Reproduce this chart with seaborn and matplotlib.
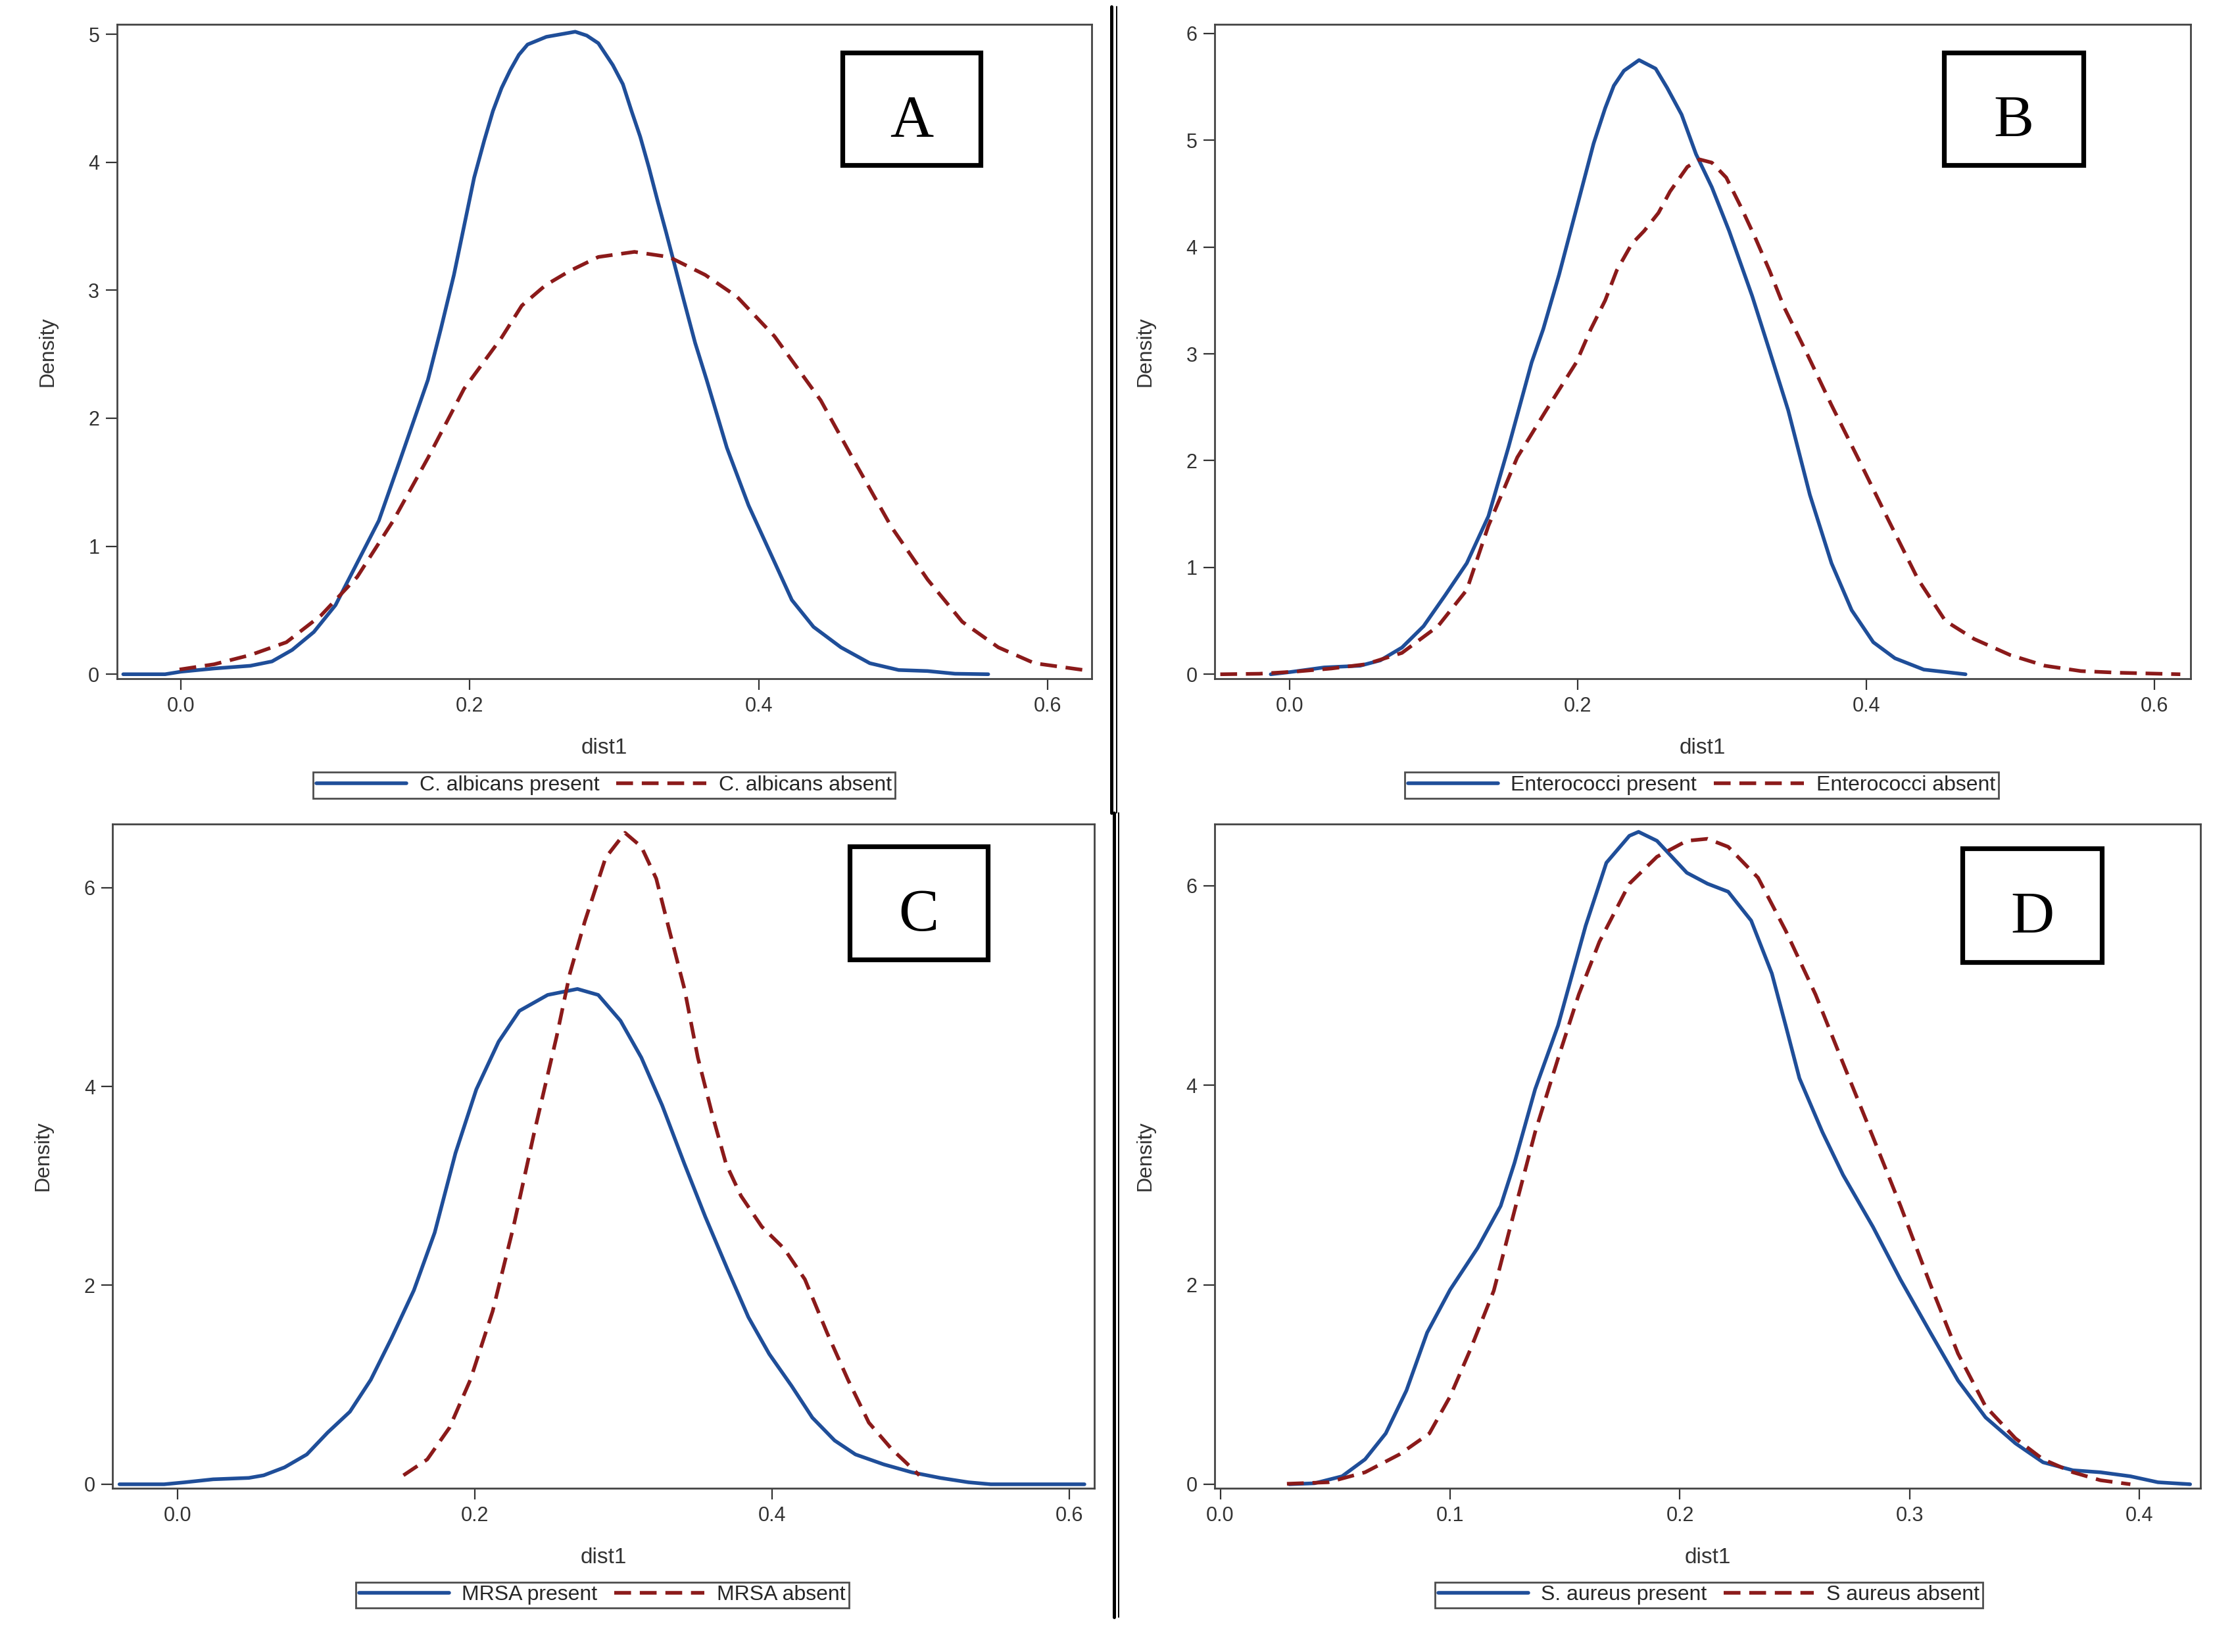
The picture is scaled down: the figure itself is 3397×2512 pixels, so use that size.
import numpy as np
import pandas as pd
import seaborn as sns
import matplotlib.pyplot as plt
from matplotlib.patches import Rectangle
from matplotlib.lines import Line2D

# Panel A - C. albicans
a_pres_x = [-0.040, -0.011, 0.000, 0.023, 0.048, 0.063, 0.077, 0.092, 0.107, 0.122, 0.137, 0.151, 0.171, 0.180,
            0.189, 0.196, 0.203, 0.210, 0.216, 0.222, 0.228, 0.234, 0.240, 0.253, 0.263, 0.273, 0.281, 0.289,
            0.299, 0.306, 0.312, 0.318, 0.324, 0.330, 0.336, 0.342, 0.348, 0.356, 0.364, 0.378, 0.393, 0.408,
            0.423, 0.438, 0.457, 0.477, 0.497, 0.517, 0.536, 0.559]
a_pres_y = [0.0, 0.0, 0.02, 0.045, 0.066, 0.10, 0.19, 0.33, 0.54, 0.87, 1.20, 1.65, 2.30, 2.70,
            3.12, 3.50, 3.88, 4.17, 4.40, 4.58, 4.72, 4.84, 4.92, 4.98, 5.00, 5.02, 4.99, 4.93,
            4.76, 4.61, 4.40, 4.20, 3.96, 3.70, 3.45, 3.19, 2.93, 2.59, 2.30, 1.77, 1.32, 0.95,
            0.58, 0.37, 0.21, 0.086, 0.033, 0.025, 0.004, 0.0]
a_abs_x = [-0.001, 0.023, 0.048, 0.073, 0.097, 0.122, 0.147, 0.171, 0.196, 0.222, 0.236, 0.2525, 0.269, 0.289,
           0.314, 0.338, 0.363, 0.385, 0.411, 0.443, 0.467, 0.492, 0.517, 0.541, 0.566, 0.591, 0.625]
a_abs_y = [0.037, 0.078, 0.15, 0.25, 0.46, 0.76, 1.20, 1.69, 2.23, 2.63, 2.88, 3.04, 3.15, 3.26,
           3.30, 3.26, 3.12, 2.95, 2.64, 2.14, 1.65, 1.15, 0.74, 0.41, 0.21, 0.086, 0.033]

# Panel B - Enterococci
b_pres_x = [-0.013, 0.000, 0.024, 0.049, 0.063, 0.078, 0.093, 0.108, 0.123, 0.138, 0.152, 0.168, 0.176, 0.187,
            0.195, 0.203, 0.211, 0.219, 0.225, 0.232, 0.2425, 0.254, 0.262, 0.272, 0.282, 0.293, 0.305, 0.321,
            0.333, 0.346, 0.361, 0.376, 0.390, 0.405, 0.420, 0.440, 0.469]
b_pres_y = [0.0, 0.02, 0.064, 0.08, 0.13, 0.25, 0.45, 0.74, 1.04, 1.48, 2.13, 2.92, 3.23, 3.74,
            4.15, 4.56, 4.97, 5.30, 5.51, 5.65, 5.75, 5.67, 5.49, 5.24, 4.87, 4.56, 4.15, 3.54,
            3.03, 2.47, 1.68, 1.04, 0.60, 0.30, 0.15, 0.044, 0.0]
b_abs_x = [-0.048, -0.021, 0.004, 0.029, 0.053, 0.078, 0.103, 0.123, 0.138, 0.158, 0.178, 0.199, 0.209, 0.219,
           0.227, 0.2375, 0.246, 0.256, 0.264, 0.276, 0.2845, 0.293, 0.303, 0.313, 0.323, 0.333, 0.343, 0.358,
           0.376, 0.396, 0.416, 0.436, 0.455, 0.475, 0.500, 0.524, 0.549, 0.574, 0.618]
b_abs_y = [0.0, 0.005, 0.025, 0.054, 0.094, 0.20, 0.45, 0.79, 1.39, 2.03, 2.47, 2.92, 3.23, 3.50,
           3.78, 4.03, 4.15, 4.32, 4.52, 4.75, 4.82, 4.79, 4.65, 4.38, 4.09, 3.78, 3.44, 3.03,
           2.52, 1.98, 1.43, 0.89, 0.50, 0.33, 0.18, 0.08, 0.03, 0.015, 0.0]

# Panel C - MRSA
c_pres_x = [-0.039, -0.009, 0.005, 0.024, 0.048, 0.058, 0.072, 0.087, 0.101, 0.116, 0.130, 0.144, 0.159, 0.173,
            0.187, 0.201, 0.216, 0.230, 0.249, 0.269, 0.283, 0.298, 0.312, 0.326, 0.341, 0.355, 0.370, 0.384,
            0.398, 0.413, 0.427, 0.442, 0.456, 0.475, 0.494, 0.513, 0.532, 0.547, 0.610]
c_pres_y = [0.0, 0.0, 0.02, 0.05, 0.064, 0.09, 0.17, 0.30, 0.52, 0.73, 1.05, 1.47, 1.95, 2.53,
            3.33, 3.97, 4.45, 4.76, 4.92, 4.98, 4.92, 4.66, 4.29, 3.81, 3.22, 2.69, 2.16, 1.68,
            1.31, 0.99, 0.67, 0.44, 0.30, 0.20, 0.12, 0.064, 0.02, 0.0, 0.0]
c_abs_x = [0.152, 0.168, 0.183, 0.197, 0.212, 0.226, 0.240, 0.255, 0.264, 0.274, 0.288, 0.301, 0.312, 0.322,
           0.331, 0.341, 0.350, 0.360, 0.369, 0.379, 0.393, 0.408, 0.422, 0.437, 0.451, 0.465, 0.480, 0.499]
c_abs_y = [0.09, 0.25, 0.57, 1.05, 1.74, 2.59, 3.54, 4.50, 5.14, 5.66, 6.30, 6.55, 6.41, 6.09,
           5.56, 4.98, 4.29, 3.70, 3.22, 2.90, 2.59, 2.37, 2.06, 1.52, 1.05, 0.62, 0.36, 0.09]

# Panel D - S. aureus
d_pres_x = [0.030, 0.041, 0.053, 0.063, 0.072, 0.081, 0.090, 0.100, 0.112, 0.122, 0.128, 0.137, 0.147, 0.159,
            0.168, 0.178, 0.182, 0.190, 0.203, 0.212, 0.221, 0.231, 0.240, 0.246, 0.252, 0.262, 0.271, 0.284,
            0.296, 0.309, 0.321, 0.333, 0.346, 0.358, 0.371, 0.383, 0.396, 0.408, 0.422]
d_pres_y = [0.0, 0.01, 0.08, 0.25, 0.51, 0.94, 1.52, 1.95, 2.37, 2.79, 3.22, 3.96, 4.60, 5.60,
            6.23, 6.50, 6.54, 6.45, 6.13, 6.02, 5.94, 5.65, 5.12, 4.60, 4.07, 3.53, 3.10, 2.58,
            2.05, 1.52, 1.04, 0.67, 0.41, 0.22, 0.14, 0.12, 0.08, 0.02, 0.0]
d_abs_x = [0.029, 0.047, 0.063, 0.078, 0.091, 0.100, 0.109, 0.119, 0.128, 0.137, 0.147, 0.156, 0.165, 0.178,
           0.190, 0.203, 0.212, 0.221, 0.234, 0.246, 0.259, 0.271, 0.284, 0.296, 0.309, 0.321, 0.333, 0.346,
           0.358, 0.371, 0.383, 0.396]
d_abs_y = [0.005, 0.02, 0.12, 0.30, 0.51, 0.88, 1.36, 1.94, 2.74, 3.53, 4.27, 4.91, 5.44, 6.02,
           6.29, 6.45, 6.47, 6.39, 6.08, 5.55, 4.91, 4.22, 3.48, 2.79, 2.00, 1.31, 0.78, 0.46,
           0.25, 0.12, 0.04, 0.0]

panel_letters = ["A", "B", "C", "D"]
present_labels = ["C. albicans present", "Enterococci present", "MRSA present", "S. aureus present"]
absent_labels = ["C. albicans absent", "Enterococci absent", "MRSA absent", "S aureus absent"]
x_ticks = [[0.0, 0.2, 0.4, 0.6], [0.0, 0.2, 0.4, 0.6], [0.0, 0.2, 0.4, 0.6], [0.0, 0.1, 0.2, 0.3, 0.4]]
y_ticks = [[0, 1, 2, 3, 4, 5], [0, 1, 2, 3, 4, 5, 6], [0, 2, 4, 6], [0, 2, 4, 6]]

sns.set_theme(style="ticks")
plt.rcParams['font.family'] = ['Liberation Sans', 'DejaVu Sans']

BLUE = "#1f4e99"
RED = "#8b1a1a"

fig = plt.figure(figsize=(16.99, 12.56), dpi=200)

# axes placement [left, bottom, width, height] and limits
boxes = [[0.0523, 0.589, 0.4362, 0.3963],
         [0.5435, 0.589, 0.4367, 0.3963],
         [0.0504, 0.099, 0.4394, 0.4023],
         [0.5435, 0.099, 0.4412, 0.4023]]
xlims = [(-0.0444, 0.6306), (-0.052, 0.625), (-0.0436, 0.6168), (-0.0025, 0.4265)]
ylims = [(-0.037, 5.078), (-0.044, 6.085), (-0.042, 6.64), (-0.042, 6.62)]
legend_pos = [(0.2704, 0.5246), (0.7615, 0.5246), (0.2695, 0.0345), (0.7647, 0.0345)]
letter_boxes = [(0.3770, 0.8999, 0.0618, 0.0681), (0.8699, 0.8999, 0.0625, 0.0681),
                (0.3801, 0.4193, 0.0619, 0.0682), (0.8782, 0.4176, 0.0625, 0.0690)]

series = [(a_pres_x, a_pres_y, a_abs_x, a_abs_y),
          (b_pres_x, b_pres_y, b_abs_x, b_abs_y),
          (c_pres_x, c_pres_y, c_abs_x, c_abs_y),
          (d_pres_x, d_pres_y, d_abs_x, d_abs_y)]

for i in range(4):
    ax = fig.add_axes(boxes[i])
    px, py, qx, qy = series[i]
    sns.lineplot(x=px, y=py, ax=ax, color=BLUE, lw=2.0, label=present_labels[i])
    sns.lineplot(x=qx, y=qy, ax=ax, color=RED, lw=2.0, linestyle=(0, (4.6, 2.4)), label=absent_labels[i])
    for ln in ax.lines:
        ln.set_solid_joinstyle("round")
        ln.set_dash_joinstyle("round")
    ax.set_xlim(xlims[i])
    ax.set_ylim(ylims[i])
    ax.set_xticks(x_ticks[i])
    ax.set_xticklabels([f"{t:.1f}" for t in x_ticks[i]])
    ax.set_yticks(y_ticks[i])
    ax.set_yticklabels([str(t) for t in y_ticks[i]])
    ax.tick_params(axis="both", labelsize=11, length=6, width=0.8, color="#333333", labelcolor="#333333")
    for s in ax.spines.values():
        s.set_visible(True)
        s.set_color("#444444")
        s.set_linewidth(1.0)
    ax.set_xlabel("dist1", fontsize=12, color="#333333", labelpad=12)
    ax.set_ylabel("Density", fontsize=11.5, color="#333333", labelpad=17)
    ax.legend(loc="center", bbox_to_anchor=legend_pos[i], bbox_transform=fig.transFigure, ncol=2,
              frameon=True, fancybox=False, edgecolor="#222222", fontsize=11.5, handlelength=4.3,
              columnspacing=0.8, handletextpad=0.6, borderpad=0.15, borderaxespad=0)
    ax.get_legend().get_frame().set_linewidth(1.0)

    # letter box
    lx, ly, lw, lh = letter_boxes[i]
    fig.add_artist(Rectangle((lx, ly), lw, lh, transform=fig.transFigure, fill=False,
                             edgecolor="black", linewidth=2.6))
    fig.text(lx + lw / 2, ly + lh / 2 - 0.008, panel_letters[i], ha="center", va="center",
             fontsize=33, family=["Liberation Serif", "DejaVu Serif"], color="black")

# double vertical separator
fig.add_artist(Line2D([0.4974, 0.4974], [0.508, 0.996], transform=fig.transFigure, color="black", lw=1.8))
fig.add_artist(Line2D([0.4996, 0.4996], [0.508, 0.996], transform=fig.transFigure, color="black", lw=0.7))
fig.add_artist(Line2D([0.4985, 0.4985], [0.021, 0.508], transform=fig.transFigure, color="black", lw=1.8))
fig.add_artist(Line2D([0.5006, 0.5006], [0.021, 0.508], transform=fig.transFigure, color="black", lw=0.7))

fig.savefig("out.png", dpi=200, facecolor="white")
